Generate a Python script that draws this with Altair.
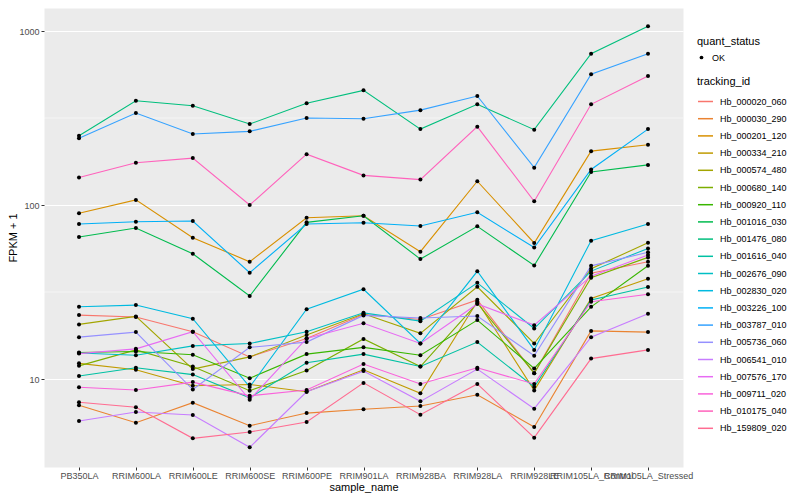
import altair as alt
import pandas as pd

samples = ["PB350LA", "RRIM600LA", "RRIM600LE", "RRIM600SE", "RRIM600PE", "RRIM901LA",
           "RRIM928BA", "RRIM928LA", "RRIM928LE", "RRIM105LA_Control", "RRIM105LA_Stressed"]

tracking_ids = ["Hb_000020_060", "Hb_000030_290", "Hb_000201_120", "Hb_000334_210", "Hb_000574_480",
                "Hb_000680_140", "Hb_000920_110", "Hb_001016_030", "Hb_001476_080", "Hb_001616_040",
                "Hb_002676_090", "Hb_002830_020", "Hb_003226_100", "Hb_003787_010", "Hb_005736_060",
                "Hb_006541_010", "Hb_007576_170", "Hb_009711_020", "Hb_010175_040", "Hb_159809_020"]

colors = ["#F8766D", "#EA8331", "#D89000", "#C09B00", "#A3A500", "#7CAE00", "#39B600", "#00BB4E",
          "#00BF7D", "#00C1A3", "#00BFC4", "#00BAE0", "#00B0F6", "#35A2FF", "#9590FF", "#C77CFF",
          "#E76BF3", "#FA62DB", "#FF62BC", "#FF6C91"]

hb_000020_060 = [23.3, 22.7, 18.7, 13.4, 17.1, 23.5, 22.0, 28.5, 10.8, 40.5, 47.2]
hb_000030_290 = [7.06, 5.61, 7.31, 5.39, 6.37, 6.70, 7.0, 8.12, 5.3, 18.9, 18.6]
hb_000201_120 = [89.6, 107, 64.9, 47.2, 84.5, 86.8, 53.9, 137, 60.5, 204, 222]
hb_000334_210 = [12.3, 11.3, 9.15, 9.3, 8.45, 11.3, 8.28, 27.9, 8.6, 29.0, 37.7]
hb_000574_480 = [20.6, 22.9, 11.4, 13.4, 17.9, 23.7, 18.3, 33.9, 16.0, 43.0, 60.7]
hb_000680_140 = [11.9, 14.7, 11.8, 8.57, 11.2, 17.0, 11.8, 27.3, 10.8, 38.2, 50.0]
hb_000920_110 = [14.2, 14.4, 13.8, 10.1, 13.9, 15.2, 13.7, 21.8, 11.5, 26.0, 44.8]
hb_001016_030 = [65.5, 73.8, 52.5, 30.0, 79.5, 86.8, 48.9, 75.4, 44.9, 155, 170]
hb_001476_080 = [250, 397, 372, 292, 384, 456, 273, 379, 271, 741, 1064]
hb_001616_040 = [10.4, 11.6, 10.6, 7.8, 12.4, 13.9, 11.8, 16.3, 9.0, 28.5, 33.8]
hb_002676_090 = [14.1, 13.7, 15.5, 16.0, 18.7, 24.0, 21.5, 35.7, 19.5, 41.7, 56.3]
hb_002830_020 = [26.0, 26.6, 22.2, 9.0, 25.2, 32.8, 16.0, 41.6, 14.7, 62.4, 77.8]
hb_003226_100 = [77.8, 80.2, 80.9, 40.8, 77.8, 79.1, 75.7, 90.8, 57.0, 160, 273]
hb_003787_010 = [242, 338, 256, 265, 316, 313, 351, 423, 164, 564, 741]
hb_005736_060 = [17.4, 18.6, 8.7, 15.2, 16.3, 23.2, 22.4, 23.0, 13.6, 44.7, 53.5]
hb_006541_010 = [5.74, 6.46, 6.21, 4.05, 8.45, 11.1, 7.44, 11.4, 6.75, 17.4, 23.7]
hb_007576_170 = [14.0, 14.9, 18.7, 7.6, 17.1, 20.9, 16.0, 27.0, 20.4, 39.0, 51.6]
hb_009711_020 = [8.96, 8.65, 9.6, 8.0, 8.65, 12.2, 9.37, 11.6, 9.37, 27.8, 30.7]
hb_010175_040 = [144, 175, 186, 100, 196, 148, 140, 282, 105, 379, 551]
hb_159809_020 = [7.35, 6.88, 4.56, 4.96, 5.66, 9.5, 6.24, 9.37, 4.6, 13.1, 14.7]

series = [hb_000020_060, hb_000030_290, hb_000201_120, hb_000334_210, hb_000574_480,
          hb_000680_140, hb_000920_110, hb_001016_030, hb_001476_080, hb_001616_040,
          hb_002676_090, hb_002830_020, hb_003226_100, hb_003787_010, hb_005736_060,
          hb_006541_010, hb_007576_170, hb_009711_020, hb_010175_040, hb_159809_020]

major_breaks = [10, 100, 1000]
minor_breaks = [31.62, 316.2]

rows = []
for tid, vals in zip(tracking_ids, series):
    for i, (s, v) in enumerate(zip(samples, vals)):
        rows.append({"sample_name": s, "tracking_id": tid, "fpkm": v, "idx": i, "quant_status": "OK"})
df = pd.DataFrame(rows)

FONT = "Liberation Sans"

x_enc = alt.X("sample_name:N", sort=samples,
              scale=alt.Scale(type="point", padding=0.615),
              axis=alt.Axis(title="sample_name", labelAngle=0, labelOverlap=False, labelBound=False,
                            labelPadding=1, titleY=20, titleBaseline="middle"))
y_enc = alt.Y("fpkm:Q",
              scale=alt.Scale(type="log", domain=[3.121, 1356], nice=False, zero=False),
              axis=alt.Axis(title="FPKM + 1", values=major_breaks, format="d",
                            titleX=-31, titleY=229.5, titleAngle=270, titleBaseline="middle",
                            titleAlign="center"))

minor = alt.Chart(pd.DataFrame({"fpkm": minor_breaks})).mark_rule(
    color="white", strokeWidth=0.55).encode(y=y_enc)

lines = alt.Chart(df).mark_line(strokeWidth=1.1).encode(
    x=x_enc, y=y_enc,
    color=alt.Color("tracking_id:N",
                    scale=alt.Scale(domain=tracking_ids, range=colors),
                    legend=alt.Legend(title="tracking_id", orient="none", legendX=653, legendY=68,
                                      symbolType="stroke", symbolSize=225, symbolStrokeWidth=1.5,
                                      rowPadding=3.2, labelOffset=6)),
    order=alt.Order("idx:Q"),
)

points = alt.Chart(df).mark_point(filled=True, size=16, color="black", opacity=1).encode(
    x=x_enc, y=y_enc,
    shape=alt.Shape("quant_status:N",
                    scale=alt.Scale(domain=["OK"], range=["circle"]),
                    legend=alt.Legend(title="quant_status", orient="none", legendX=653, legendY=28,
                                      symbolSize=14, labelOffset=6)),
)

chart = alt.layer(minor, lines, points).properties(
    width=639, height=459,
    padding={"left": 36, "top": 0, "right": 105, "bottom": 30},
    autosize=alt.AutoSizeParams(type="none"),
).configure_view(
    fill="#EBEBEB", stroke="transparent"
).configure_axis(
    gridColor="white", gridWidth=1.1, domain=False, tickColor="#333333", tickSize=3,
    labelColor="#4D4D4D", labelFont=FONT, labelFontSize=9,
    titleFont=FONT, titleFontSize=11, titleFontWeight="normal", titleColor="black",
    labelPadding=2,
).configure_legend(
    titleFont=FONT, titleFontSize=11, titleFontWeight="normal", titleColor="black",
    labelFont=FONT, labelFontSize=9, labelColor="black", titlePadding=6,
)

chart.save("out.html", embed_options={"renderer": "svg", "actions": False})
